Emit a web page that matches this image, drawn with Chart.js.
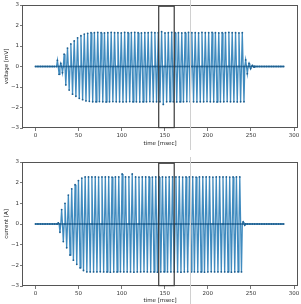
<!DOCTYPE html>
<html><head><meta charset="utf-8">
<script src="https://cdn.jsdelivr.net/npm/chart.js@4/dist/chart.umd.min.js"></script>
<style>html,body{margin:0;padding:0;background:#fff;width:301px;height:304px;overflow:hidden}
canvas{position:absolute;left:0}</style></head>
<body>
<canvas id="c1" width="301" height="152" style="top:0"></canvas>
<canvas id="c2" width="301" height="152" style="top:152px"></canvas>
<script>
// ---- data ----
const X_TICKS = [0, 50, 100, 150, 200, 250, 300];
const Y_TICKS = [-3, -2, -1, 0, 1, 2, 3];
const X_RANGE = [-14.45, 303.45];
const Y_RANGE = [-3, 3];
const PERIOD = 3.9;            // ms, oscillation period (sampled at quarter cycles)
const FLAT_STEP = 2;           // ms, sample spacing of the quiet parts

// voltage [mV]
const V_START = 24.5;          // first oscillation cycle
const V_PRE_END = 22;          // quiet part 0..22
const V_POST_START = 254;      // quiet part 254..288
const V_POST_END = 288;
const vPos = [0.30,0.15,0.60,0.90,1.10,1.25,1.40,1.50,1.58,1.62,
  1.65,1.65,1.66,1.65,1.64,1.65,1.66,1.65,1.65,1.64,
  1.66,1.65,1.65,1.66,1.65,1.64,1.65,1.65,1.66,1.65,
  1.65,1.70,1.64,1.65,1.66,1.65,1.65,1.64,1.65,1.66,
  1.65,1.65,1.64,1.66,1.65,1.65,1.66,1.65,1.64,1.65,
  1.65,1.66,1.65,1.65,1.64,1.65,
  0.32,0.15,0.05];
const vNeg = [-0.38,-0.30,-0.90,-1.15,-1.35,-1.45,-1.55,-1.62,-1.68,-1.70,
  -1.72,-1.72,-1.71,-1.72,-1.73,-1.72,-1.71,-1.72,-1.72,-1.73,
  -1.72,-1.71,-1.72,-1.72,-1.73,-1.72,-1.72,-1.71,-1.72,-1.72,
  -1.72,-1.85,-1.72,-1.71,-1.72,-1.73,-1.72,-1.72,-1.71,-1.72,
  -1.72,-1.73,-1.72,-1.72,-1.71,-1.72,-1.72,-1.73,-1.72,-1.72,
  -1.71,-1.72,-1.72,-1.73,-1.72,-1.72,
  -0.35,-0.10,-0.03];

// current [A]
const C_START = 25.5;
const C_PRE_END = 24;
const C_POST_START = 244;
const C_POST_END = 288;
const cPos = [0.05,0.70,1.00,1.40,1.70,1.90,2.10,2.22,2.28,2.28,
  2.28,2.28,2.27,2.28,2.28,2.28,2.27,2.28,2.28,2.42,
  2.28,2.28,2.42,2.28,2.27,2.28,2.28,2.28,2.27,2.28,
  2.28,2.28,2.27,2.28,2.28,2.28,2.28,2.27,2.28,2.28,
  2.28,2.27,2.28,2.28,2.28,2.28,2.27,2.28,2.28,2.28,
  2.28,2.27,2.28,2.28,2.28,
  0.10];
const cNeg = [-0.40,-0.85,-1.15,-1.50,-1.75,-1.95,-2.12,-2.25,-2.32,-2.32,
  -2.32,-2.32,-2.31,-2.32,-2.32,-2.33,-2.32,-2.32,-2.31,-2.32,
  -2.32,-2.32,-2.33,-2.32,-2.32,-2.31,-2.32,-2.32,-2.32,-2.33,
  -2.32,-2.31,-2.32,-2.32,-2.32,-2.32,-2.33,-2.32,-2.31,-2.32,
  -2.32,-2.32,-2.32,-2.33,-2.32,-2.31,-2.32,-2.32,-2.32,-2.32,
  -2.32,-2.33,-2.32,-2.31,-2.32,
  -0.05];

// annotations
const BOX_X = [143, 161];
const BOX_Y = [-2.98, 2.94];
const VLINE_X = 179;

// ---- build point tables ----
function buildSeries(start, preEnd, postStart, postEnd, pos, neg) {
  const pts = [];
  for (let t = 0; t <= preEnd; t += FLAT_STEP) pts.push({x: t, y: 0});
  for (let k = 0; k < pos.length; k++) {
    const t = start + k * PERIOD;
    pts.push({x: t, y: 0});
    pts.push({x: t + PERIOD / 4, y: pos[k]});
    pts.push({x: t + PERIOD / 2, y: 0});
    pts.push({x: t + 3 * PERIOD / 4, y: neg[k]});
  }
  pts.push({x: start + pos.length * PERIOD, y: 0});
  for (let t = postStart; t <= postEnd; t += FLAT_STEP) pts.push({x: t, y: 0});
  return pts;
}

const FONT = {family: 'DejaVu Sans', size: 5.5};
const fmt = v => (v < 0 ? '\u2212' + Math.abs(v) : String(v));

const decor = {
  id: 'decor',
  afterDraw(chart, args, o) {
    const {ctx, chartArea: a, scales: {x, y}} = chart;
    ctx.save();
    // frame
    ctx.strokeStyle = '#555';
    ctx.lineWidth = 1;
    ctx.strokeRect(Math.round(a.left) - 0.5, Math.round(a.top) + 0.5,
      Math.round(a.right - a.left) + 1, Math.round(a.bottom - a.top) - 1);
    // box
    const x0 = x.getPixelForValue(BOX_X[0]), x1 = x.getPixelForValue(BOX_X[1]);
    const y0 = y.getPixelForValue(BOX_Y[1]), y1 = y.getPixelForValue(BOX_Y[0]);
    ctx.strokeStyle = '#3a3a3a';
    ctx.lineWidth = 1.2;
    ctx.strokeRect(x0, y0, x1 - x0, y1 - y0);
    // vertical guide line
    const vx = Math.round(x.getPixelForValue(VLINE_X)) + 0.5;
    ctx.strokeStyle = '#d0d0d0';
    ctx.lineWidth = 1;
    ctx.beginPath();
    ctx.moveTo(vx, o.top);
    ctx.lineTo(vx, o.bottom);
    ctx.stroke();
    ctx.restore();
  }
};

function makeChart(id, pts, yTitle, padTop, xHeight, xTitlePad, vTop, vBottom) {
  return new Chart(document.getElementById(id), {
    type: 'line',
    data: {datasets: [{
      data: pts,
      borderColor: 'rgba(31,119,180,0.85)',
      borderWidth: 1.3,
      pointRadius: 0.9,
      pointBackgroundColor: '#1f5f8f',
      pointBorderWidth: 0,
      tension: 0
    }]},
    options: {
      responsive: false, animation: false, devicePixelRatio: 1,
      layout: {padding: {top: padTop, right: 4, left: 0, bottom: 0}},
      plugins: {legend: {display: false}, tooltip: {enabled: false},
        decor: {top: vTop, bottom: vBottom}},
      scales: {
        x: {
          type: 'linear', min: X_RANGE[0], max: X_RANGE[1],
          afterBuildTicks: s => { s.ticks = X_TICKS.map(v => ({value: v})); },
          afterFit: s => { s.height = xHeight; },
          ticks: {font: FONT, color: '#333', padding: 1, maxRotation: 0, autoSkip: false, callback: fmt},
          grid: {display: true, drawOnChartArea: false, drawTicks: true, tickLength: 3, color: '#555', lineWidth: 0.8},
          border: {display: false},
          title: {display: true, text: 'time [msec]', font: FONT, color: '#222', padding: {top: 0, bottom: xTitlePad}}
        },
        y: {
          type: 'linear', min: Y_RANGE[0], max: Y_RANGE[1],
          afterBuildTicks: s => { s.ticks = Y_TICKS.map(v => ({value: v})); },
          afterFit: s => { s.width = 23; },
          ticks: {font: FONT, color: '#333', padding: 1, callback: fmt},
          grid: {display: true, drawOnChartArea: false, drawTicks: true, tickLength: 3, color: '#555', lineWidth: 0.8},
          border: {display: false},
          title: {display: true, text: yTitle, font: FONT, color: '#222', padding: {top: 3, bottom: 0}}
        }
      }
    },
    plugins: [decor]
  });
}

makeChart('c1', buildSeries(V_START, V_PRE_END, V_POST_START, V_POST_END, vPos, vNeg),
  'voltage [mV]', 5, 24, 5, 0, 150);
makeChart('c2', buildSeries(C_START, C_PRE_END, C_POST_START, C_POST_END, cPos, cNeg),
  'current [A]', 10, 18, 0, 5, 152);
</script>
</body></html>
